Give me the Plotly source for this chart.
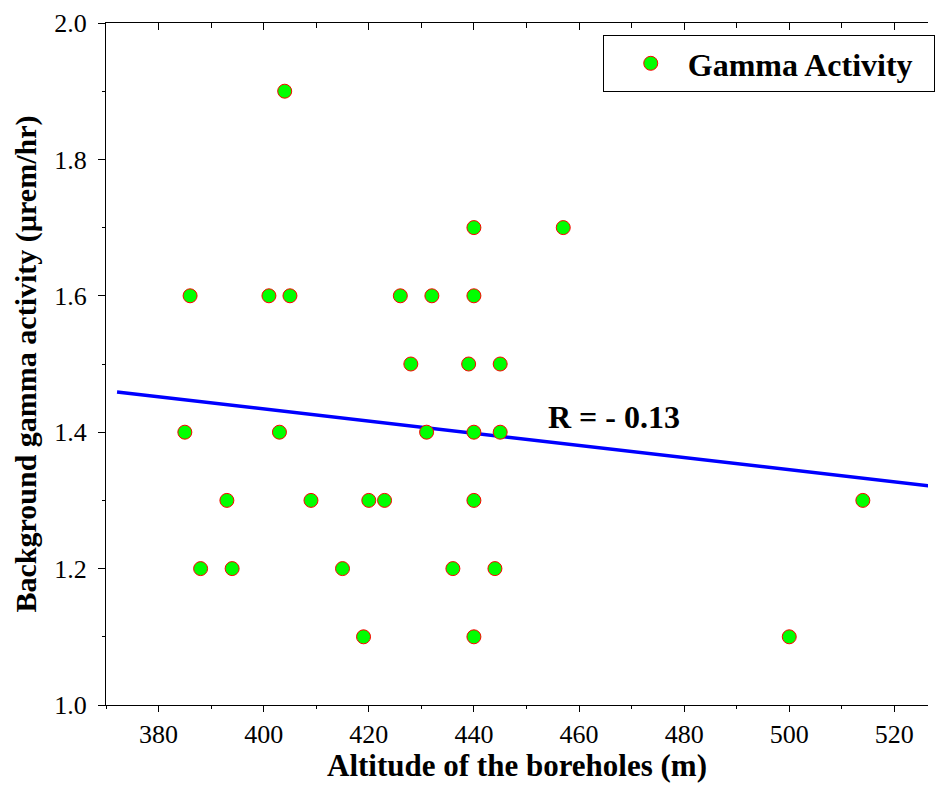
import plotly.graph_objects as go

# Data
altitude = [404, 386, 401, 405, 426, 432, 440, 440, 457,
            428, 439, 445,
            385, 403, 431, 440, 445,
            393, 409, 420, 423, 440, 514,
            388, 394, 415, 436, 444,
            419, 440, 500]
gamma = [1.9, 1.6, 1.6, 1.6, 1.6, 1.6, 1.6, 1.7, 1.7,
         1.5, 1.5, 1.5,
         1.4, 1.4, 1.4, 1.4, 1.4,
         1.3, 1.3, 1.3, 1.3, 1.3, 1.3,
         1.2, 1.2, 1.2, 1.2, 1.2,
         1.1, 1.1, 1.1]

fit_x = [372.1, 527.0]
fit_y = [1.459, 1.321]

x_ticks = [380, 400, 420, 440, 460, 480, 500, 520]
y_ticks = [1.0, 1.2, 1.4, 1.6, 1.8, 2.0]
y_tick_labels = ["1.0", "1.2", "1.4", "1.6", "1.8", "2.0"]

FONT = "Liberation Serif, Times New Roman, serif"
x_range = [370, 526.4]
y_range = [1.0, 2.0]

fig = go.Figure()

fig.add_trace(go.Scatter(
    x=fit_x, y=fit_y, mode="lines",
    line=dict(color="#0000ff", width=3.5),
    showlegend=False, hoverinfo="skip",
))

fig.add_trace(go.Scatter(
    x=altitude, y=gamma, mode="markers",
    name="<b>Gamma Activity\u00a0\u00a0</b>",
    marker=dict(size=14, color="#00ff00", line=dict(color="#ff0000", width=1)),
))

# invisible trace for top axis
fig.add_trace(go.Scatter(x=[x_range[0]], y=[y_range[0]], xaxis="x2",
                         mode="markers", marker=dict(opacity=0),
                         showlegend=False, hoverinfo="skip"))

fig.add_annotation(
    x=466.6, y=1.422, xref="x", yref="y",
    text="<b>R = - 0.13</b>", showarrow=False,
    font=dict(family=FONT, size=32, color="black"),
    xanchor="center", yanchor="middle",
)

fig.update_layout(
    width=927, height=775,
    margin=dict(l=98, r=0, t=15, b=78),
    paper_bgcolor="white", plot_bgcolor="white",
    font=dict(family=FONT, color="black"),
    xaxis=dict(
        range=x_range, tickvals=x_ticks, automargin=False,
        ticks="outside", ticklen=6, tickwidth=1, tickcolor="black",
        minor=dict(dtick=10, ticks="outside", ticklen=3, tickwidth=1, tickcolor="black"),
        showline=True, linecolor="black", linewidth=1,
        showgrid=False, zeroline=False,
        tickfont=dict(family=FONT, size=26, color="black"),
        title=dict(text="<b>Altitude of the boreholes (m)</b>",
                   font=dict(family=FONT, size=31, color="black"), standoff=6),
    ),
    xaxis2=dict(
        overlaying="x", side="top", range=x_range, tickvals=x_ticks, automargin=False,
        ticks="inside", ticklen=7, tickwidth=1, tickcolor="black",
        minor=dict(dtick=10, ticks="inside", ticklen=5, tickwidth=1, tickcolor="black"),
        showline=True, linecolor="black", linewidth=1,
        showticklabels=False, showgrid=False, zeroline=False,
    ),
    yaxis=dict(
        range=y_range, tickvals=y_ticks, ticktext=y_tick_labels, automargin=False,
        ticks="outside", ticklen=7, tickwidth=1, tickcolor="black",
        minor=dict(dtick=0.1, ticks="outside", ticklen=3, tickwidth=1, tickcolor="black"),
        showline=True, linecolor="black", linewidth=1,
        showgrid=False, zeroline=False, ticklabelstandoff=6,
        tickfont=dict(family=FONT, size=26, color="black"),
        title=dict(text="<b>Background gamma activity (µrem/hr)</b>",
                   font=dict(family=FONT, size=30, color="black"), standoff=8),
    ),
    legend=dict(
        x=0.6043, y=0.9824, xanchor="left", yanchor="top",
        bgcolor="white", bordercolor="black", borderwidth=1,
        font=dict(family=FONT, size=32, color="black"),
        itemwidth=64, indentation=10,
    ),
    showlegend=True,
)

fig.write_html("out.html")
